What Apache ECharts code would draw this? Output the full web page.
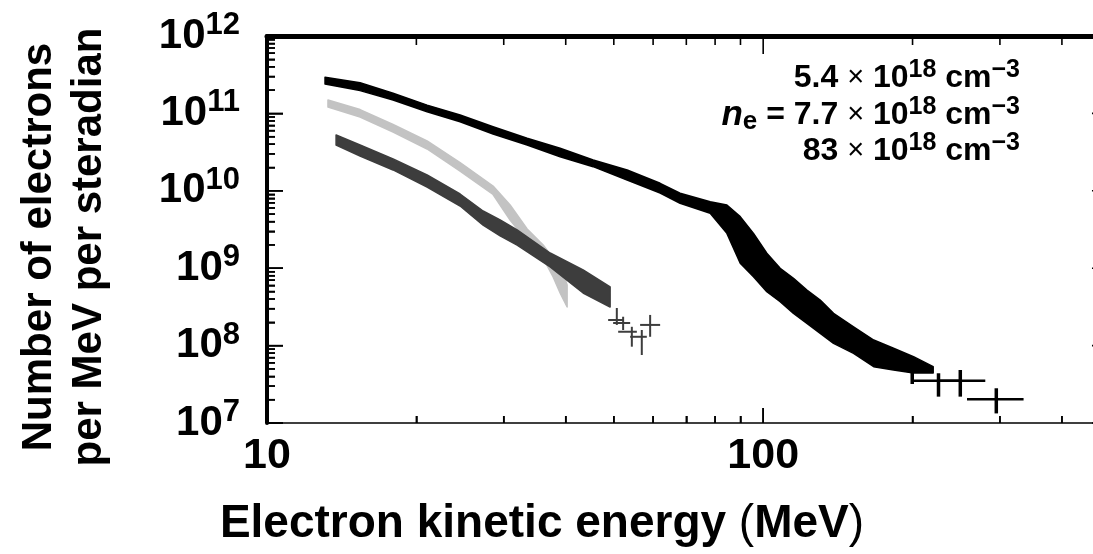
<!DOCTYPE html>
<html><head><meta charset="utf-8">
<script src="https://cdn.jsdelivr.net/npm/echarts@6/dist/echarts.min.js"></script>
<style>html,body{margin:0;padding:0;background:#fff;overflow:hidden}#c{width:1093px;height:554px}</style>
</head><body><div id="c"></div>
<script>
const FONT = '"Liberation Sans", Arial, Helvetica, sans-serif';

// ---- data (energy in MeV, electrons per MeV per sr) ----
// black spectrum: band upper / lower edges
const blackEnergy = [13.09, 15.40, 17.95, 21.02, 24.50, 28.55, 33.44, 38.97, 45.43, 53.19, 61.99, 68.0, 78.2, 84.5, 89.9, 95.6, 101.7, 108.2, 115.1, 122.5, 130.3, 138.6, 152.1, 167.0, 183.1, 200.9, 220.1];
const blackUpper = [2.93e11, 2.49e11, 1.82e11, 1.28e11, 9.54e10, 6.73e10, 4.77e10, 3.54e10, 2.50e10, 1.86e10, 1.25e10, 9.3e9, 7.23e9, 6.55e9, 4.63e9, 2.82e9, 1.56e9, 9.97e8, 7.41e8, 5.23e8, 3.88e8, 2.61e8, 1.75e8, 1.18e8, 9.23e7, 7.19e7, 5.34e7];
const blackLower = [2.40e11, 1.97e11, 1.49e11, 1.05e11, 7.81e10, 5.42e10, 3.91e10, 2.76e10, 2.05e10, 1.38e10, 9.37e9, 6.9e9, 5.12e9, 2.82e9, 1.16e9, 7.77e8, 4.97e8, 3.69e8, 2.61e8, 1.94e8, 1.44e8, 1.07e8, 7.95e7, 5.34e7, 4.84e7, 4.43e7, 4.43e7];
// black error-bar points: [E, N, Elow, Ehigh, Nlow, Nhigh]
const blackCrosses = [
  [199.7, 3.52e7, 199.7, 199.7, 3.19e7, 4.84e7],
  [225.6, 3.52e7, 200.6, 249.6, 2.19e7, 4.39e7],
  [249.6, 3.52e7, 225.6, 280.3, 2.19e7, 4.84e7],
  [295.0, 2.02e7, 257.5, 334.8, 1.33e7, 2.81e7]
];

// dark grey spectrum
const darkEnergy = [13.78, 15.40, 17.95, 21.02, 24.50, 27.26, 29.50, 31.92, 37.21, 43.36, 49.15];
const darkUpper = [5.26e10, 3.91e10, 2.58e10, 1.60e10, 9.09e9, 5.48e9, 4.20e9, 3.12e9, 1.57e9, 9.48e8, 5.72e8];
const darkLower = [3.91e10, 2.82e10, 1.86e10, 1.12e10, 6.36e9, 3.61e9, 2.61e9, 1.99e9, 1.04e9, 4.78e8, 3.15e8];
const darkCrosses = [
  [50.70, 2.14e8, 48.70, 52.21, 1.85e8, 3.06e8],
  [52.21, 1.96e8, 49.84, 53.94, 1.59e8, 2.36e8],
  [54.36, 1.51e8, 51.02, 55.64, 9.68e7, 1.75e8],
  [56.93, 1.30e8, 53.94, 58.27, 7.56e7, 1.59e8],
  [59.18, 1.85e8, 56.49, 61.99, 1.30e8, 2.49e8]
];

// light grey spectrum
const lightEnergy = [13.27, 15.40, 17.95, 21.02, 24.50, 28.55, 30.90, 33.44, 36.02, 37.73, 38.97, 40.26];
const lightUpper = [1.49e11, 1.12e11, 7.19e10, 4.40e10, 2.32e10, 1.15e10, 6.55e9, 3.21e9, 1.99e9, 1.35e9, 1.13e9, 6.07e8];
const lightLower = [1.21e11, 8.98e10, 5.75e10, 3.47e10, 1.80e10, 8.96e9, 4.20e9, 2.25e9, 1.35e9, 7.70e8, 4.78e8, 3.15e8];

// axes, ticks and annotation text
const xLabelValues = [10, 100];
const yLabelExponents = [7, 8, 9, 10, 11, 12];
const xMajorTicks = [10, 100];
const xMinorTicks = [20, 30, 40, 50, 60, 70, 80, 90, 200, 300, 400];
const yMajorTicks = [1e7, 1e8, 1e9, 1e10, 1e11, 1e12];
const yMinorTicks = [2e7, 3e7, 4e7, 5e7, 6e7, 7e7, 8e7, 9e7,
  2e8, 3e8, 4e8, 5e8, 6e8, 7e8, 8e8, 9e8,
  2e9, 3e9, 4e9, 5e9, 6e9, 7e9, 8e9, 9e9,
  2e10, 3e10, 4e10, 5e10, 6e10, 7e10, 8e10, 9e10,
  2e11, 3e11, 4e11, 5e11, 6e11, 7e11, 8e11, 9e11];
const densityLines = [['5.4', '18'], ['7.7', '18'], ['83', '18']];

const X_MIN = 10, X_MAX = 500, Y_MIN = 1e7, Y_MAX = 1e12;

function bandSeries(xs, up, lo, color, z) {
  return {
    type: 'custom', z: z, silent: true, clip: false,
    data: [[xs[0], up[0]]],
    renderItem: function (params, api) {
      const pts = [];
      for (let i = 0; i < xs.length; i++) pts.push(api.coord([xs[i], up[i]]));
      for (let i = xs.length - 1; i >= 0; i--) pts.push(api.coord([xs[i], lo[i]]));
      return { type: 'polygon', shape: { points: pts },
        style: { fill: color, stroke: color, lineWidth: 1.5, lineJoin: 'round' } };
    }
  };
}
function crossSeries(arr, color, wv, wh, z) {
  return {
    type: 'custom', z: z, silent: true, clip: false,
    data: arr, encode: { x: 0, y: 1 },
    renderItem: function (params, api) {
      const x = api.value(0), y = api.value(1);
      const a = api.coord([api.value(2), y]), b = api.coord([api.value(3), y]);
      const c = api.coord([x, api.value(4)]), d = api.coord([x, api.value(5)]);
      return { type: 'group', children: [
        { type: 'line', shape: { x1: a[0], y1: a[1], x2: b[0], y2: b[1] }, style: { stroke: color, lineWidth: wh } },
        { type: 'line', shape: { x1: c[0], y1: c[1], x2: d[0], y2: d[1] }, style: { stroke: color, lineWidth: wv } }
      ] };
    }
  };
}
// tick marks as thin filled bars, placed through the axes' log scales
const tickSeries = {
  type: 'custom', z: 6, silent: true, clip: false,
  data: [[X_MIN * 1.5, Y_MIN * 3]],
  renderItem: function (params, api) {
    const kids = [];
    const h = 0.8;
    const xl = X_MIN * 1.0001, xr = X_MAX / 1.0001, yb = Y_MIN * 1.0001, yt = Y_MAX / 1.0001;
    function bar(pts) { kids.push({ type: 'polygon', shape: { points: pts }, style: { fill: '#000' } }); }
    function xt(vals, lb, lt) {
      vals.forEach(v => {
        const b = api.coord([v, yb]), t = api.coord([v, yt]);
        bar([[b[0] - h, b[1]], [b[0] + h, b[1]], [b[0] + h, b[1] - lb], [b[0] - h, b[1] - lb]]);
        bar([[t[0] - h, t[1]], [t[0] + h, t[1]], [t[0] + h, t[1] + lt], [t[0] - h, t[1] + lt]]);
      });
    }
    function yt_(vals, ll, lr) {
      vals.forEach(v => {
        const l = api.coord([xl, v]), r = api.coord([xr, v]);
        bar([[l[0], l[1] - h], [l[0] + ll, l[1] - h], [l[0] + ll, l[1] + h], [l[0], l[1] + h]]);
        bar([[r[0], r[1] - h], [r[0] - lr, r[1] - h], [r[0] - lr, r[1] + h], [r[0], r[1] + h]]);
      });
    }
    try {
      xt(xMajorTicks, 15, 18);
      xt(xMinorTicks, 7, 9);
      yt_(yMajorTicks, 16, 18);
      yt_(yMinorTicks, 8, 8);
    } catch (e) { return null; }
    return { type: 'group', children: kids };
  }
};

const legendRich = {
  b: { fontFamily: FONT, fontWeight: 'bold', fontSize: 32, lineHeight: 40, verticalAlign: 'middle', color: '#000' },
  x: { fontFamily: FONT, fontWeight: 'normal', fontSize: 29, lineHeight: 40, verticalAlign: 'middle', color: '#000' },
  s: { fontFamily: FONT, fontWeight: 'bold', fontSize: 25, lineHeight: 25, verticalAlign: 'top', color: '#000' },
  i: { fontFamily: FONT, fontWeight: 'bold', fontStyle: 'italic', fontSize: 35, lineHeight: 40, verticalAlign: 'middle', color: '#000' },
  sub: { fontFamily: FONT, fontWeight: 'bold', fontSize: 26, lineHeight: 26, verticalAlign: 'bottom', color: '#000' }
};
function legendLine(idx, y) {
  const d = densityLines[idx];
  let t = '{b|' + d[0] + ' }{x|×}{b| 10}{s|' + d[1] + '}{b| cm}{s|−3}';
  if (idx === 1) t = '{i|n}{sub|e}{b| = }' + t;
  return { type: 'text', x: 1020, y: y, z: 10,
    style: { text: t, rich: legendRich, align: 'right', verticalAlign: 'middle' } };
}

const L = (w) => ({ color: '#000', width: w });

const chart = echarts.init(document.getElementById('c'));
chart.setOption({
  animation: false,
  backgroundColor: '#fff',
  grid: { left: 267, top: 36, width: 843, height: 387, containLabel: false, outerBoundsMode: 'none' },
  xAxis: [{
    type: 'log', min: X_MIN, max: X_MAX, position: 'bottom',
    axisLine: { show: true, lineStyle: L(1.5) },
    axisTick: { show: true, inside: true, length: 15, lineStyle: L(1.5) },
    minorTick: { show: true, splitNumber: 9, length: 7, lineStyle: L(1.5) },
    splitLine: { show: false },
    axisLabel: {
      show: true, margin: 12, color: '#000', fontFamily: FONT, fontWeight: 'bold', fontSize: 43,
      formatter: function (v) { return xLabelValues.some(t => Math.abs(t - v) < 1e-6 * t) ? String(Math.round(v)) : ''; }
    }
  }, {
    type: 'log', min: X_MIN, max: X_MAX, position: 'top',
    axisLine: { show: true, lineStyle: L(5) },
    axisTick: { show: false }, minorTick: { show: false },
    axisLabel: { show: false }, splitLine: { show: false }
  }],
  yAxis: [{
    type: 'log', min: Y_MIN, max: Y_MAX, position: 'left',
    axisLine: { show: true, lineStyle: L(4) },
    axisTick: { show: true, inside: true, length: 16, lineStyle: L(1.5) },
    minorTick: { show: true, splitNumber: 9, length: 8, lineStyle: L(1.5) },
    splitLine: { show: false },
    axisLabel: {
      show: true, margin: 27,
      formatter: function (v) {
        const e = Math.round(Math.log10(v));
        return yLabelExponents.indexOf(e) >= 0 ? '{b|10}{s|' + e + '}' : '';
      },
      rich: {
        b: { fontFamily: FONT, fontWeight: 'bold', fontSize: 42, lineHeight: 52, verticalAlign: 'middle', color: '#000' },
        s: { fontFamily: FONT, fontWeight: 'bold', fontSize: 31, lineHeight: 31, verticalAlign: 'top', color: '#000' }
      }
    }
  }, {
    type: 'log', min: Y_MIN, max: Y_MAX, position: 'right',
    axisLine: { show: true, lineStyle: L(4) },
    axisTick: { show: false }, minorTick: { show: false },
    axisLabel: { show: false }, splitLine: { show: false }
  }],
  series: [
    bandSeries(lightEnergy, lightUpper, lightLower, '#c3c3c3', 2),
    bandSeries(darkEnergy, darkUpper, darkLower, '#3d3d3d', 3),
    crossSeries(darkCrosses, '#3d3d3d', 2, 2, 3),
    bandSeries(blackEnergy, blackUpper, blackLower, '#000000', 4),
    crossSeries(blackCrosses, '#000000', 3.5, 2.5, 4),
    tickSeries
  ],
  graphic: [
    { type: 'text', x: 64, y: 247, rotation: Math.PI / 2, z: 10,
      style: { text: 'Number of electrons\nper MeV per steradian', font: 'bold 42px ' + FONT, fill: '#000',
        align: 'center', verticalAlign: 'middle', lineHeight: 50 } },
    { type: 'text', x: 542, y: 524, z: 10,
      style: { text: '{b|Electron kinetic energy }{p|(}{b|MeV}{p|)}',
        rich: {
          b: { fontFamily: FONT, fontWeight: 'bold', fontSize: 46, color: '#000' },
          p: { fontFamily: FONT, fontWeight: 'normal', fontSize: 46, color: '#000' }
        },
        align: 'center', verticalAlign: 'middle' } },
    legendLine(0, 78),
    legendLine(1, 115),
    legendLine(2, 151)
  ]
});
</script>
</body></html>
